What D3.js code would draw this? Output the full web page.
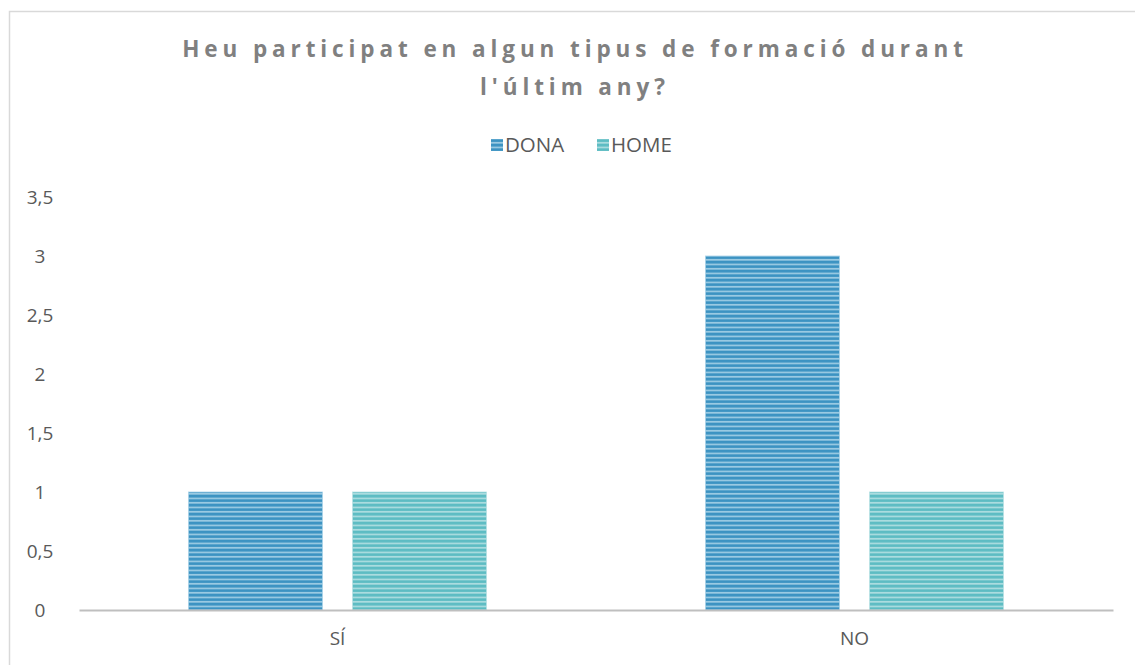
<!DOCTYPE html>
<html lang="ca">
<head>
  <meta charset="UTF-8">
  <title>Heu participat en algun tipus de formació durant l'últim any?</title>
  <script src="https://d3js.org/d3.v7.min.js"></script>
  <style>
    body { margin: 0; background: #fff; font-family: 'Open Sans', sans-serif; }
    .title { font-family: 'Open Sans', sans-serif; font-weight: bold; font-size: 22.5px; fill: #808080; letter-spacing: 4.9px; text-anchor: middle; }
    .tick text { font-family: 'Open Sans', sans-serif; font-size: 19px; fill: #595959; }
    .legend text { font-family: 'Open Sans', sans-serif; font-size: 20.5px; fill: #595959; }
  </style>
</head>
<body>
  <svg width="1135" height="665"></svg>
  <script>
    const categories = ["SÍ", "NO"];
    const series = ["DONA", "HOME"];
    const dona = [1, 3];
    const home = [1, 1];
    const yTicks = [0, 0.5, 1, 1.5, 2, 2.5, 3, 3.5];

    const svg = d3.select("svg");
    const margin = {left: 79, right: 22, top: 197, bottom: 55};
    const width = 1135, height = 665;

    // chart area border
    svg.append("rect")
      .attr("x", 9.5).attr("y", 11.5)
      .attr("width", 1140).attr("height", 700)
      .attr("fill", "none").attr("stroke", "#d9d9d9").attr("stroke-width", 1.5);

    // striped fills
    const defs = svg.append("defs");
    const fills = {DONA: ["#3c93c2", "#aad3e8"], HOME: ["#5dbcc3", "#b8e2e4"]};
    series.forEach(s => {
      const p = defs.append("pattern")
        .attr("id", "pat-" + s)
        .attr("patternUnits", "userSpaceOnUse")
        .attr("width", 8).attr("height", 4.5);
      p.append("rect").attr("width", 8).attr("height", 4.5).attr("fill", fills[s][0]);
      p.append("rect").attr("y", 2.6).attr("width", 8).attr("height", 1.5).attr("fill", fills[s][1]);
    });

    const x0 = d3.scaleBand()
      .domain(categories)
      .range([margin.left, width - margin.right]);

    const x1 = d3.scaleBand()
      .domain(series)
      .range([0, x0.bandwidth()])
      .paddingInner(0.183)
      .paddingOuter(0.667);

    const y = d3.scaleLinear()
      .domain([0, 3.5])
      .range([height - margin.bottom, margin.top]);

    // title
    const title = svg.append("text").attr("class", "title");
    title.append("tspan").attr("x", 575).attr("y", 57).text("Heu participat en algun tipus de formació durant");
    title.append("tspan").attr("x", 575).attr("y", 95).text("l'últim any?");

    // legend
    const legend = svg.append("g").attr("class", "legend");
    const legendX = [491, 597];
    series.forEach((s, i) => {
      legend.append("rect")
        .attr("x", legendX[i]).attr("y", 139)
        .attr("width", 12).attr("height", 12)
        .attr("fill", "url(#pat-" + s + ")");
      legend.append("text")
        .attr("x", legendX[i] + 14).attr("y", 152)
        .text(s);
    });

    // y axis labels
    const yAxis = svg.append("g")
      .attr("transform", "translate(40,0)")
      .call(d3.axisLeft(y).tickValues(yTicks).tickSize(0).tickPadding(0)
        .tickFormat(d => String(d).replace(".", ",")));
    yAxis.select(".domain").remove();
    yAxis.selectAll("text").attr("text-anchor", "middle").attr("dy", "0.35em");

    // bars
    const values = {DONA: dona, HOME: home};
    const groups = svg.selectAll(".cat")
      .data(categories)
      .enter().append("g")
      .attr("transform", d => `translate(${x0(d)},0)`);

    groups.selectAll("rect")
      .data((c, ci) => series.map(s => ({s, v: values[s][ci]})))
      .enter().append("rect")
      .attr("x", d => x1(d.s))
      .attr("y", d => y(d.v))
      .attr("width", x1.bandwidth())
      .attr("height", d => y(0) - y(d.v))
      .attr("fill", d => "url(#pat-" + d.s + ")")
      .attr("stroke", d => fills[d.s][1])
      .attr("stroke-width", 0.8);

    // x axis
    const xAxis = svg.append("g")
      .attr("transform", `translate(0,${y(0)})`)
      .call(d3.axisBottom(x0).tickSize(0).tickPadding(22));
    xAxis.select(".domain").attr("stroke", "#bfbfbf").attr("stroke-width", 2);
  </script>
</body>
</html>
